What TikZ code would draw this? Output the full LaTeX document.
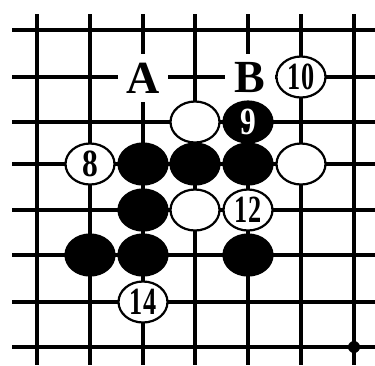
\documentclass[tikz,border=0pt]{standalone}
\usepackage{fontspec}
\setmainfont{Liberation Serif}
\usetikzlibrary{shapes.geometric}
\begin{document}
\begin{tikzpicture}[x=1pt,y=-1pt,
  gridline/.style={line width=3.6pt},
  stone/.style={ellipse,minimum width=49pt,minimum height=41pt,inner sep=0pt,line width=2.2pt,draw=black},
  bstone/.style={stone,fill=black,text=white},
  wstone/.style={stone,fill=white,text=black},
  numlab/.style={font=\bfseries\fontsize{35}{35}\selectfont},
  letlab/.style={fill=white,inner sep=0pt,minimum width=50pt,minimum height=48pt,font=\bfseries\fontsize{46}{46}\selectfont}]
\useasboundingbox (0,0) rectangle (375,365);
% grid
\foreach \x in {37,90,143,195,248,301,354} \draw[gridline] (\x,14) -- (\x,365);
\foreach \y in {30,77,122,164,210,255,302,347} \draw[gridline] (12,\y) -- (375,\y);
\fill (354,347) circle (6pt);
% labels
\node[letlab] (A) at (143,78) {A};
\node[letlab] (B) at (250,78) {B};
% stones
\node[wstone,numlab] (s10) at (301,77) {\scalebox{0.75}[1.1]{10}};
\node[wstone] (w1) at (195,122) {};
\node[bstone,numlab] (s9) at (248,122) {\scalebox{0.9}[1.1]{9}};
\node[wstone,numlab] (s8) at (90,164) {\scalebox{0.9}[1.1]{8}};
\node[bstone] (b1) at (143,164) {};
\node[bstone] (b2) at (195,164) {};
\node[bstone] (b3) at (248,164) {};
\node[wstone] (w2) at (301,164) {};
\node[bstone] (b4) at (143,210) {};
\node[wstone] (w3) at (195,210) {};
\node[wstone,numlab] (s12) at (248,210) {\scalebox{0.75}[1.1]{12}};
\node[bstone] (b5) at (90,255) {};
\node[bstone] (b6) at (143,255) {};
\node[bstone] (b7) at (248,255) {};
\node[wstone,numlab] (s14) at (143,302) {\scalebox{0.75}[1.1]{14}};
\end{tikzpicture}
\end{document}
